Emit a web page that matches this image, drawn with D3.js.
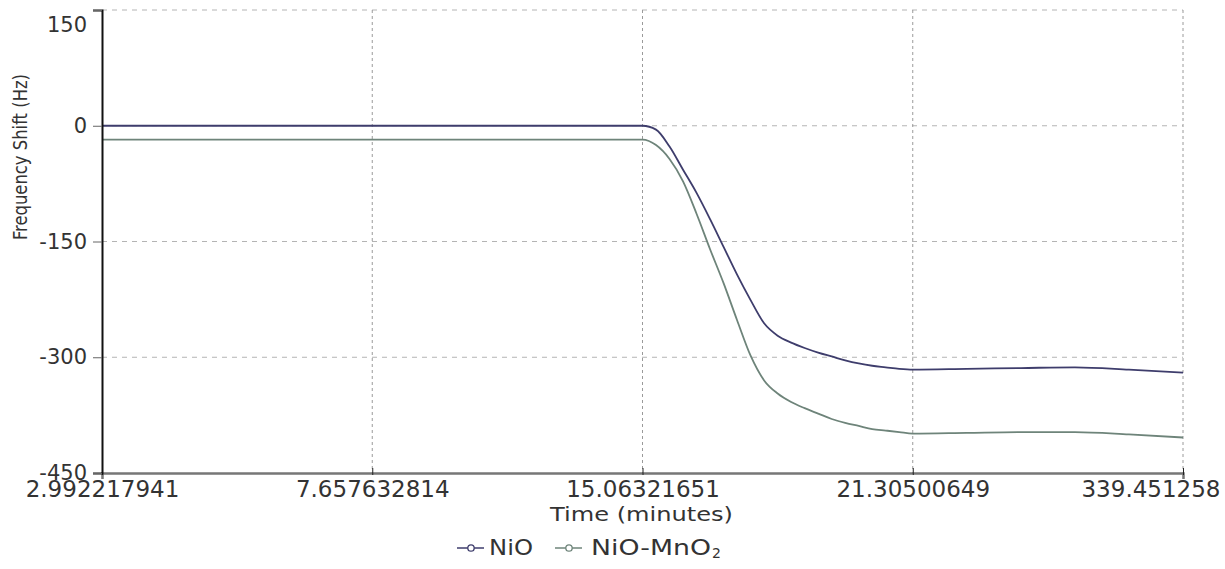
<!DOCTYPE html>
<html><head><meta charset="utf-8">
<script src="https://cdn.jsdelivr.net/npm/d3@7"></script>
<style>body{margin:0;background:#fff}svg{display:block}</style>
</head><body>
<svg id="c" width="1225" height="569"></svg>
<script>
const xTickLabels = ["2.992217941","7.657632814","15.06321651","21.30500649","339.451258"];
const xTickIndex = [0, 20, 40, 60, 80];
const yTicks = [-450, -300, -150, 0, 150];
const sampleIndex = [0,20,40,41,42,43,44,45,46,47,48,49,50,51,52,53,54,55,56,57,58,59,60,64,68,72,76,80];
const nioShift = [0,0,0,-5,-27,-57,-87,-121,-157,-193,-226,-256,-272,-281,-288,-294,-299,-304,-308,-311,-313,-315,-316,-315,-314,-313,-316,-320];
const nioMnO2Shift = [-18,-18,-18,-25,-43,-72,-114,-160,-204,-252,-298,-330,-347,-358,-366,-373,-380,-385,-389,-393,-395,-397,-399,-398,-397,-397,-400,-404];
const seriesNames = ["NiO", "NiO-MnO"];
const seriesSub = ["", "2"];
const seriesColors = ["#3e3d6c", "#6e847a"];

const svg = d3.select("#c");
const L = 102, R = 1183, T = 10, B = 473;
const x = d3.scaleLinear().domain([0, 80]).range([L, R]);
const y = d3.scaleLinear().domain([-450, 150]).range([B, T]);
const tickFont = "DejaVu Sans, sans-serif";

// grid
const g = svg.append("g");
g.selectAll("line.hg").data(yTicks.filter(d => d > -450)).join("line")
  .attr("x1", L).attr("x2", R).attr("y1", d => y(d)).attr("y2", d => y(d))
  .attr("stroke", "#b4b4b4").attr("stroke-width", 1).attr("stroke-dasharray", "5,5");
g.selectAll("line.vg").data(xTickIndex.slice(1)).join("line")
  .attr("x1", d => x(d)).attr("x2", d => x(d)).attr("y1", T).attr("y2", B)
  .attr("stroke", "#9a9a9a").attr("stroke-width", 1).attr("stroke-dasharray", "3,3");

// lines
const line = d3.line().x(d => x(d[0])).y(d => y(d[1])).curve(d3.curveMonotoneX);
[nioShift, nioMnO2Shift].forEach((vals, i) => {
  svg.append("path").datum(sampleIndex.map((s, j) => [s, vals[j]]))
    .attr("d", line).attr("fill", "none")
    .attr("stroke", seriesColors[i]).attr("stroke-width", 1.8);
});

// x axis
const xAxis = d3.axisBottom(x).tickValues(xTickIndex)
  .tickFormat((d, i) => xTickLabels[i]).tickSize(6).tickPadding(0);
const xa = svg.append("g").attr("transform", `translate(0,${B})`).call(xAxis);
xa.select(".domain").attr("stroke", "#777").attr("stroke-width", 2.5);
xa.selectAll(".tick line").attr("stroke", "#222").attr("y1", -5).attr("y2", 2);
xa.selectAll(".tick text").attr("font-family", tickFont).attr("font-size", 23)
  .attr("fill", "#333").attr("y", 24).attr("dy", 0);
xa.selectAll(".tick text").filter((d, i) => i === xTickIndex.length - 1)
  .attr("text-anchor", "end").attr("x", 37);

// y axis
const yAxis = d3.axisLeft(y).tickValues(yTicks).tickFormat(d => String(d)).tickSize(9).tickPadding(6);
const ya = svg.append("g").attr("transform", `translate(${L},0)`).call(yAxis);
ya.select(".domain").attr("stroke", "#111").attr("stroke-width", 2);
ya.selectAll(".tick line").attr("stroke", "#666");
ya.selectAll(".tick text").attr("font-family", tickFont).attr("font-size", 21)
  .attr("fill", "#333");
ya.selectAll(".tick text").filter(d => d === 150).attr("dy", "1.0em");

// axis titles
svg.append("text").attr("x", 550).attr("y", 521)
  .attr("font-family", tickFont).attr("font-size", 20).attr("fill", "#333")
  .attr("textLength", 183).attr("lengthAdjust", "spacingAndGlyphs")
  .text("Time (minutes)");
svg.append("text").attr("transform", "translate(27,157) rotate(-90)")
  .attr("text-anchor", "middle")
  .attr("font-family", "Liberation Sans Narrow, DejaVu Sans Condensed, sans-serif")
  .attr("font-size", 20).attr("fill", "#333")
  .attr("textLength", 166).attr("lengthAdjust", "spacingAndGlyphs")
  .text("Frequency Shift (Hz)");

// legend
const legX = [457, 555];
const legLen = [44, 120];
seriesNames.forEach((name, i) => {
  const lg = svg.append("g").attr("transform", `translate(${legX[i]},548)`);
  lg.append("line").attr("x1", 0).attr("x2", 27).attr("stroke", seriesColors[i]).attr("stroke-width", 1.5);
  lg.append("circle").attr("cx", 14).attr("r", 3.2).attr("fill", "#fff").attr("stroke", seriesColors[i]).attr("stroke-width", 1.3);
  lg.append("text").attr("x", i === 0 ? 32 : 36).attr("y", 7).attr("font-family", tickFont)
    .attr("font-size", 21).attr("fill", "#333")
    .attr("textLength", legLen[i]).attr("lengthAdjust", "spacingAndGlyphs")
    .text(name);
  if (seriesSub[i]) {
    lg.append("text").attr("x", 36 + legLen[i] + 1).attr("y", 10).attr("font-family", tickFont)
      .attr("font-size", 14).attr("fill", "#333").text(seriesSub[i]);
  }
});
</script>
</body></html>
